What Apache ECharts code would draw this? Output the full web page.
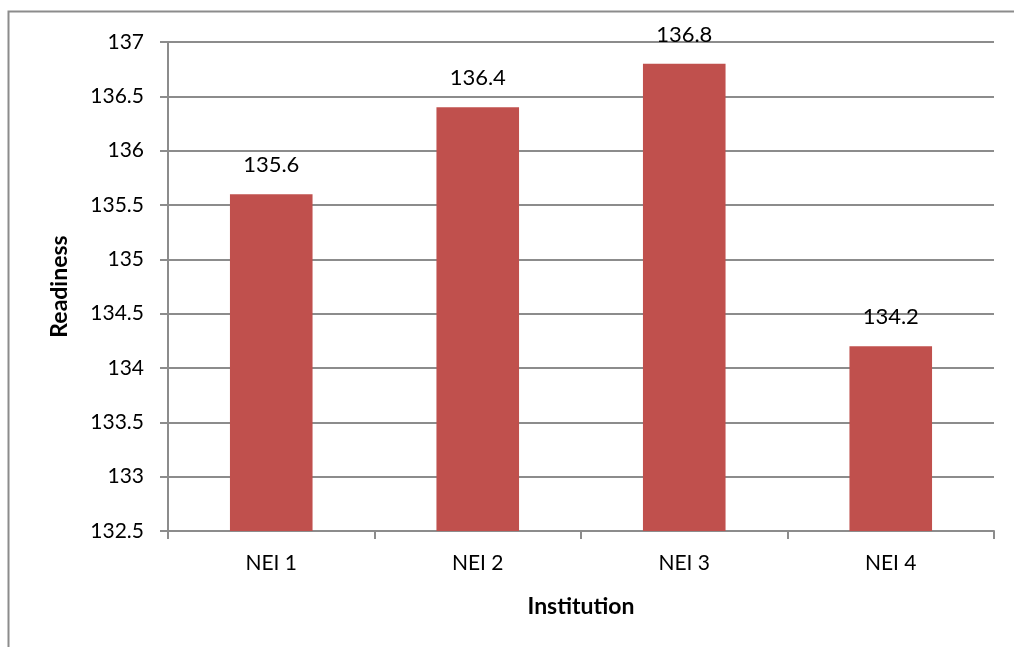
<!DOCTYPE html>
<html lang="en">
<head>
<meta charset="UTF-8">
<title>Readiness by institution</title>
<style>
  html, body { margin: 0; padding: 0; background: #fff; }
  #main { width: 1014px; height: 647px; }
</style>
</head>
<body>
<div id="main"></div>
<script src="https://cdn.jsdelivr.net/npm/echarts@6/dist/echarts.min.js"></script>
<script>
  // data
  const institutions = ['NEI 1', 'NEI 2', 'NEI 3', 'NEI 4'];
  const readiness = [135.6, 136.4, 136.8, 134.2];
  const yMin = 132.5, yMax = 137, yStep = 0.5;

  const fontFamily = 'Lato, "Open Sans", sans-serif';
  const gridColor = '#8c8c8c';

  var chart = echarts.init(document.getElementById('main'));

  var option = {
    animation: false,
    backgroundColor: '#fff',
    textStyle: { fontFamily: fontFamily, color: '#000' },
    graphic: [
      {
        type: 'rect',
        shape: { x: 8.5, y: 11.5, width: 1020, height: 650 },
        style: { fill: 'none', stroke: '#8c8c8c', lineWidth: 2 },
        z: -1
      }
    ],
    grid: { left: 168, right: 20, top: 42, bottom: 116 },
    xAxis: {
      type: 'category',
      data: institutions,
      name: 'Institution',
      nameLocation: 'middle',
      nameGap: 64,
      nameTextStyle: { fontSize: 23, fontWeight: 'bold', color: '#000', fontFamily: fontFamily },
      axisLine: { lineStyle: { color: gridColor, width: 2 } },
      axisTick: { show: true, length: 8, alignWithLabel: false, lineStyle: { color: gridColor, width: 2 } },
      axisLabel: { fontSize: 21, color: '#000', margin: 22, fontFamily: fontFamily }
    },
    yAxis: {
      type: 'value',
      min: yMin,
      max: yMax,
      interval: yStep,
      name: 'Readiness',
      nameLocation: 'middle',
      nameGap: 97,
      nameTextStyle: { fontSize: 23, fontWeight: 'bold', color: '#000', fontFamily: fontFamily },
      axisLine: { show: true, lineStyle: { color: gridColor, width: 2 } },
      axisTick: { show: true, length: 8, lineStyle: { color: gridColor, width: 2 } },
      axisLabel: { fontSize: 21, color: '#000', margin: 24, fontFamily: fontFamily },
      splitLine: { lineStyle: { color: gridColor, width: 2 } }
    },
    series: [
      {
        type: 'bar',
        data: readiness,
        barWidth: '40%',
        itemStyle: { color: '#C0504D' },
        label: {
          show: true,
          position: 'top',
          distance: 18,
          fontSize: 22,
          color: '#000',
          fontFamily: fontFamily
        }
      }
    ]
  };

  option && chart.setOption(option);
</script>
</body>
</html>
